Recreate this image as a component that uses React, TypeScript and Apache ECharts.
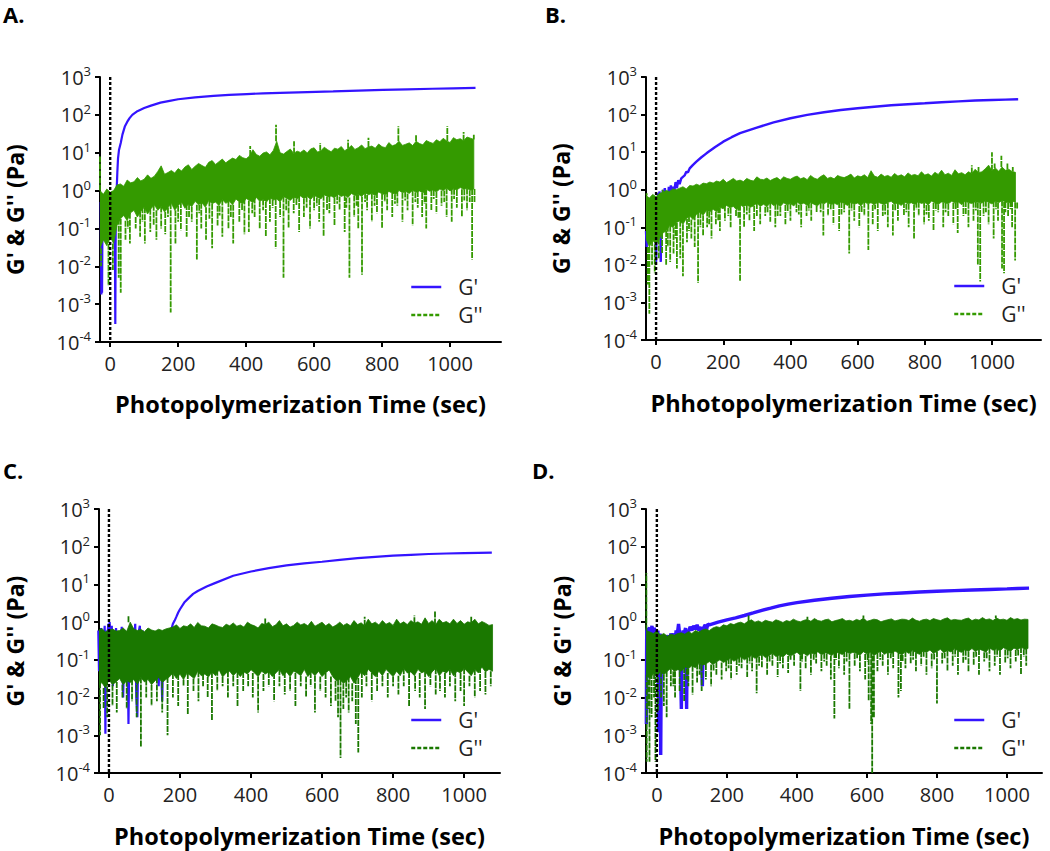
import React, { useEffect, useRef } from "react";
import * as echarts from "echarts";

// ---------------- data ----------------
const TIME_TICKS = [0, 200, 400, 600, 800, 1000];
const Y_TICK_EXP = [-4, -3, -2, -1, 0, 1, 2, 3];
// G'' is a dense noisy trace: it is read as the upper / lower edge of its dense band
// in 10 s bins (starting at -30 s), plus the isolated spikes that leave the band.
const BAND_START = -30; // s
const BAND_STEP = 10; // s

// ---- Panel A ----
const A_G1: [number, number][] = [
  [-28, 0.5], [-27, 0.03], [-26, 0.0018], [-25, 0.4], [-24, 0.002], [-23, 0.06], [-22, 0.5], [-20, 0.25],
  [-18, 0.6], [-15, 0.35], [-12, 0.7], [-9, 0.45], [-6, 0.75], [-3, 0.5], [0, 0.7], [3, 0.55], [6, 0.8],
  [9, 0.6], [12, 0.85], [14, 0.03], [15, 0.0003], [16, 0.04], [17, 0.9], [19, 1.0], [21, 3], [23, 7],
  [26, 12], [31, 18], [36, 30], [43, 49], [50, 65], [57, 82], [65, 100], [80, 125], [100, 151], [120, 175],
  [148, 210], [175, 235], [200, 258], [250, 290], [304, 316], [350, 338], [402, 355], [450, 368], [500, 380],
  [580, 400], [656, 417], [730, 437], [802, 457], [875, 473], [948, 490], [1010, 502], [1075, 513],
];
const A_G2_HI = [
  1.0, 0.8, 1.1, 0.9, 1.0, 1.4, 1.5, 1.3, 1.9, 1.6,
  1.7, 2.2, 1.8, 2.0, 2.6, 2.1, 2.4, 3.2, 4.5, 2.7,
  3.0, 3.4, 2.9, 3.8, 3.3, 4.2, 4.8, 3.6, 4.4, 5.2,
  4.6, 4.1, 5.6, 6.2, 4.9, 5.8, 6.8, 5.4, 6.3, 7.2,
  6.6, 8.5, 7.4, 6.9, 8.2, 12, 9.0, 8.1, 9.8, 10.5,
  8.8, 11.5, 20, 10, 9.2, 10.8, 12.5, 9.6, 11, 10.2,
  11.8, 9.9, 12.6, 13.5, 10.4, 11.2, 14, 12, 10.6, 13.2,
  12.4, 14.6, 11.3, 13, 15.5, 12.2, 13.6, 16, 12.8, 14.2,
  15, 13.1, 17, 14.4, 13.6, 18.5, 15.2, 16.4, 20, 15.6,
  16.8, 18.2, 15.4, 20, 17.5, 16.2, 21, 19, 17.6, 22,
  19.5, 24, 20.5, 18.6, 25, 22, 23.5, 20.8, 26, 24.2, 22.5,
];
const A_G2_LO = [
  0.03, 0.05, 0.035, 0.06, 0.04, 0.12, 0.18, 0.22, 0.16, 0.26,
  0.3, 0.2, 0.28, 0.36, 0.24, 0.33, 0.42, 0.3, 0.38, 0.27,
  0.35, 0.46, 0.3, 0.4, 0.5, 0.34, 0.44, 0.38, 0.52, 0.42,
  0.48, 0.36, 0.55, 0.45, 0.5, 0.4, 0.58, 0.46, 0.52, 0.42,
  0.6, 0.5, 0.44, 0.62, 0.55, 0.48, 0.66, 0.52, 0.58, 0.5,
  0.64, 0.56, 0.6, 0.5, 0.7, 0.62, 0.55, 0.68, 0.6, 0.72,
  0.62, 0.7, 0.58, 0.75, 0.66, 0.6, 0.78, 0.68, 0.72, 0.64,
  0.8, 0.7, 0.76, 0.66, 0.84, 0.74, 0.8, 0.7, 0.88, 0.78,
  0.84, 0.74, 0.92, 0.82, 0.78, 0.95, 0.86, 0.8, 1.0, 0.88,
  0.94, 0.84, 1.02, 0.9, 0.98, 0.86, 1.08, 0.96, 1.04, 0.92,
  1.1, 1.0, 1.16, 0.98, 1.12, 1.04, 1.2, 1.08, 1.14, 1.02, 1.1,
];
const A_G2_SPIKES: [number, number][] = [
  [-30, 8], [-27, 0.01], [-5, 0.003], [8, 0.008], [25, 0.005], [31, 0.002], [45, 0.05], [52, 0.1],
  [58, 0.04], [75, 0.1], [88, 0.06], [95, 0.15], [102, 0.04], [118, 0.08], [128, 0.12], [136, 0.05],
  [150, 0.1], [162, 0.07], [170, 0.2], [178, 0.0006], [192, 0.04], [200, 0.15], [208, 0.09], [225, 0.06],
  [232, 0.2], [240, 0.15], [255, 0.015], [262, 0.25], [268, 0.1], [282, 0.05], [292, 0.18], [300, 0.03],
  [316, 0.12], [322, 0.22], [330, 0.06], [348, 0.1], [355, 0.2], [362, 0.04], [380, 0.15], [388, 0.3],
  [395, 0.07], [408, 0.08], [412, 15], [418, 0.25], [425, 0.2], [440, 0.1], [450, 0.3], [458, 0.06],
  [470, 0.15], [478, 0.35], [487, 0.03], [488, 55], [500, 0.2], [510, 0.005], [518, 0.3], [525, 0.1],
  [540, 0.25], [541, 20], [548, 0.4], [556, 0.08], [570, 0.2], [578, 0.35], [588, 0.1], [600, 0.3],
  [608, 0.4], [615, 0.15], [618, 18], [628, 0.06], [638, 0.3], [645, 0.25], [660, 0.12], [668, 0.45],
  [675, 0.3], [690, 0.08], [695, 0.35], [700, 22], [704, 0.005], [718, 0.2], [725, 0.4], [730, 0.1],
  [741, 0.006], [750, 0.5], [756, 0.3], [760, 25], [770, 0.15], [778, 0.4], [785, 0.25], [800, 0.1],
  [808, 0.5], [815, 0.3], [830, 0.2], [838, 0.45], [845, 0.4], [848, 50], [860, 0.15], [868, 0.55],
  [875, 0.3], [890, 0.12], [898, 0.5], [900, 30], [905, 0.35], [918, 0.2], [925, 0.45], [930, 0.1],
  [945, 0.3], [952, 0.6], [960, 0.25], [975, 0.4], [983, 0.5], [990, 0.2], [992, 50], [1005, 0.15],
  [1012, 0.6], [1020, 0.35], [1035, 0.2], [1040, 35], [1042, 0.55], [1050, 0.3], [1058, 0.5],
  [1065, 0.015], [1070, 30], [1072, 0.5],
];

// ---- Panel B ----
const B_G1: [number, number][] = [
  [-30, 0.08], [-28, 0.03], [-26, 0.09], [-24, 0.04], [-22, 0.12], [-20, 0.05], [-18, 0.2], [-15, 0.1],
  [-12, 0.3], [-9, 0.15], [-6, 0.5], [-3, 0.2], [0, 0.012], [2, 0.6], [4, 0.25], [6, 0.8], [8, 0.3],
  [10, 0.9], [12, 0.4], [14, 0.012], [16, 0.7], [18, 0.35], [20, 1.0], [23, 0.5], [26, 1.1], [29, 0.6],
  [32, 0.9], [35, 0.5], [38, 1.2], [41, 0.7], [44, 1.3], [47, 0.8], [50, 1.2], [54, 0.9], [58, 1.6],
  [62, 1.1], [66, 1.8], [70, 1.4], [75, 2.0], [80, 2.2], [85, 2.4], [90, 3.0], [95, 2.9], [100, 3.7],
  [110, 4.6], [120, 5.6], [135, 7.3], [150, 9.3], [175, 13.5], [200, 19], [225, 25], [250, 32], [275, 38],
  [300, 45], [350, 62], [400, 80], [450, 98], [500, 115], [550, 132], [600, 147], [650, 162], [700, 177],
  [750, 189], [800, 200], [850, 213], [900, 225], [950, 236], [1000, 245], [1040, 250], [1078, 255],
];
const B_G2_HI = [
  0.7, 0.6, 0.75, 0.65, 0.8, 0.85, 0.95, 0.9, 1.05, 1.0,
  1.1, 1.2, 1.05, 1.3, 1.25, 1.4, 1.3, 1.5, 1.45, 1.6,
  1.5, 1.7, 1.6, 1.9, 1.55, 1.75, 2.0, 1.7, 1.8, 1.65,
  2.0, 1.8, 1.7, 2.2, 1.9, 1.85, 2.05, 1.75, 1.95, 2.1,
  1.8, 2.2, 2.0, 1.9, 2.15, 2.3, 1.95, 2.1, 1.85, 2.4,
  2.05, 1.9, 2.25, 2.5, 2.0, 2.15, 1.95, 2.4, 2.2, 2.1,
  2.3, 2.6, 2.05, 2.35, 2.2, 2.5, 2.1, 3.2, 2.3, 2.15,
  2.6, 2.25, 2.4, 2.15, 2.7, 2.3, 2.5, 2.2, 2.8, 2.4,
  2.55, 2.35, 3.0, 2.45, 2.65, 2.3, 2.9, 2.55, 3.3, 2.5,
  2.75, 2.4, 3.4, 2.65, 2.85, 2.5, 3.0, 2.7, 3.5, 2.85,
  3.0, 3.6, 4.5, 3.2, 3.8, 3.1, 4.0, 3.3, 3.5, 3.05, 2.9,
];
const B_G2_LO = [
  0.05, 0.03, 0.045, 0.035, 0.05, 0.07, 0.08, 0.11, 0.1, 0.13,
  0.15, 0.12, 0.17, 0.2, 0.16, 0.22, 0.25, 0.21, 0.28, 0.26,
  0.3, 0.26, 0.34, 0.31, 0.38, 0.33, 0.36, 0.29, 0.4, 0.35,
  0.4, 0.34, 0.37, 0.44, 0.36, 0.41, 0.35, 0.45, 0.38, 0.42,
  0.36, 0.45, 0.39, 0.43, 0.37, 0.47, 0.4, 0.44, 0.38, 0.46,
  0.41, 0.37, 0.45, 0.42, 0.48, 0.39, 0.44, 0.4, 0.47, 0.43,
  0.38, 0.46, 0.41, 0.44, 0.37, 0.48, 0.42, 0.45, 0.39, 0.47,
  0.43, 0.4, 0.46, 0.49, 0.41, 0.44, 0.38, 0.47, 0.42, 0.45,
  0.4, 0.48, 0.43, 0.46, 0.39, 0.5, 0.44, 0.41, 0.47, 0.45,
  0.42, 0.49, 0.44, 0.47, 0.4, 0.5, 0.45, 0.43, 0.48, 0.46,
  0.44, 0.51, 0.46, 0.42, 0.49, 0.45, 0.52, 0.47, 0.44, 0.5, 0.46,
];
const B_G2_SPIKES: [number, number][] = [
  [-28, 0.8], [-25, 0.003], [-20, 0.0005], [-12, 0.01], [-4, 0.006], [8, 0.015], [18, 0.02], [20, 1.0],
  [30, 0.01], [35, 0.03], [42, 0.012], [52, 0.02], [58, 0.05], [62, 0.008], [72, 0.015], [80, 0.005],
  [92, 0.04], [98, 0.08], [105, 0.05], [115, 0.03], [125, 0.0033], [132, 0.1], [140, 0.06], [152, 0.1],
  [158, 0.12], [165, 0.05], [178, 0.12], [185, 0.15], [190, 0.08], [205, 0.15], [215, 0.2], [222, 0.1],
  [238, 0.2], [245, 0.18], [250, 0.0036], [262, 0.1], [270, 0.22], [278, 0.15], [292, 0.08], [300, 0.2],
  [310, 0.12], [325, 0.2], [332, 0.25], [340, 0.14], [355, 0.1], [362, 0.2], [370, 0.2], [385, 0.12],
  [392, 0.25], [400, 0.15], [418, 0.25], [425, 0.22], [432, 0.1], [448, 0.2], [455, 0.28], [462, 0.15],
  [478, 0.25], [490, 0.25], [498, 0.06], [512, 0.2], [520, 0.3], [528, 0.12], [545, 0.08], [552, 0.22],
  [560, 0.25], [575, 0.02], [582, 0.28], [590, 0.15], [605, 0.1], [612, 0.25], [620, 0.2], [632, 0.025],
  [645, 0.12], [652, 0.3], [660, 0.08], [675, 0.2], [682, 0.22], [690, 0.1], [705, 0.06], [712, 0.28],
  [720, 0.15], [738, 0.2], [745, 0.25], [752, 0.1], [768, 0.05], [775, 0.3], [782, 0.2], [798, 0.12],
  [805, 0.22], [812, 0.15], [826, 0.08], [833, 0.28], [840, 0.25], [855, 0.1], [862, 0.25], [870, 0.2],
  [885, 0.12], [892, 0.3], [898, 0.07], [915, 0.2], [922, 0.22], [930, 0.1], [940, 4.5], [945, 0.15],
  [952, 0.28], [958, 0.01], [960, 4], [965, 0.0036], [975, 0.2], [982, 0.25], [990, 0.12], [1000, 10],
  [1005, 0.05], [1008, 5], [1012, 0.3], [1018, 0.15], [1028, 8], [1030, 0.008], [1036, 0.006],
  [1040, 0.25], [1046, 5], [1048, 0.2], [1055, 0.3], [1060, 0.1], [1062, 4], [1069, 0.013], [1075, 0.3],
];

// ---- Panel C ----
const C_G1: [number, number][] = [
  [-30, 0.6], [-28, 0.05], [-26, 0.5], [-24, 0.3], [-22, 0.7], [-20, 0.04], [-18, 0.5], [-15, 0.2],
  [-12, 0.8], [-10, 0.0011], [-8, 0.6], [-5, 0.3], [-2, 0.9], [0, 0.5], [2, 1.0], [5, 0.2], [8, 0.8],
  [11, 0.02], [14, 0.6], [17, 0.1], [20, 0.7], [24, 0.04], [28, 0.5], [32, 0.15], [36, 0.75], [40, 0.01],
  [44, 0.6], [48, 0.08], [52, 0.4], [55, 0.002], [58, 0.5], [62, 0.03], [66, 0.7], [70, 0.2], [74, 0.9],
  [77, 0.01], [80, 0.003], [83, 0.5], [87, 0.8], [91, 0.1], [95, 0.6], [100, 0.05], [105, 0.5], [110, 0.2],
  [115, 0.6], [120, 0.03], [125, 0.5], [130, 0.1], [135, 0.45], [140, 0.02], [145, 0.4], [150, 0.008],
  [153, 0.3], [157, 0.5], [161, 0.1], [165, 0.6], [170, 0.4], [175, 0.6], [180, 0.9], [185, 1.1],
  [190, 1.4], [195, 1.8], [200, 2.2], [212, 3.3], [225, 4.4], [237, 5.6], [250, 6.7], [275, 8.8],
  [300, 11], [350, 17], [400, 22], [450, 27], [500, 32], [550, 36], [600, 40], [650, 45], [700, 50],
  [750, 54], [800, 58], [850, 61], [900, 64], [950, 66], [1000, 68], [1040, 69], [1078, 70],
];
const C_G2_HI = [
  0.6, 0.68, 0.55, 0.62, 0.66, 0.58, 0.6, 0.7, 0.57, 1.0,
  0.66, 0.6, 0.64, 0.56, 0.7, 0.62, 0.58, 0.65, 0.6, 0.66,
  0.7, 0.74, 0.85, 0.68, 0.8, 0.76, 0.9, 0.72, 0.98, 0.8,
  0.78, 0.7, 0.9, 0.84, 0.76, 0.72, 0.88, 0.8, 0.95, 0.78,
  0.84, 0.74, 1.0, 0.86, 0.8, 0.7, 0.92, 0.86, 1.0, 0.76,
  0.85, 1.1, 0.8, 0.9, 0.74, 0.82, 1.0, 0.84, 0.92, 0.8,
  1.05, 0.78, 0.88, 1.0, 0.8, 0.92, 0.74, 0.84, 1.0, 0.82,
  0.92, 0.8, 1.1, 0.86, 0.96, 0.8, 1.2, 0.9, 1.0, 0.84,
  1.1, 0.88, 0.98, 0.82, 1.2, 0.9, 1.02, 0.86, 1.1, 0.94,
  1.02, 0.88, 1.3, 0.92, 1.1, 0.86, 1.2, 0.96, 1.04, 0.9,
  1.2, 0.92, 1.1, 0.88, 1.02, 0.96, 1.2, 0.9, 1.04, 0.94, 0.82, 0.86,
];
const C_G2_LO = [
  0.02, 0.025, 0.018, 0.03, 0.022, 0.026, 0.032, 0.022, 0.028, 0.025,
  0.03, 0.022, 0.034, 0.026, 0.03, 0.022, 0.028, 0.034, 0.025, 0.03,
  0.035, 0.045, 0.032, 0.042, 0.03, 0.045, 0.038, 0.032, 0.05, 0.038,
  0.042, 0.035, 0.048, 0.038, 0.055, 0.035, 0.045, 0.05, 0.038, 0.048,
  0.036, 0.048, 0.042, 0.055, 0.045, 0.036, 0.05, 0.042, 0.048, 0.036,
  0.045, 0.056, 0.038, 0.048, 0.036, 0.05, 0.045, 0.038, 0.056, 0.036,
  0.048, 0.038, 0.05, 0.036, 0.045, 0.054, 0.036, 0.028, 0.03, 0.024,
  0.028, 0.036, 0.024, 0.033, 0.048, 0.038, 0.056, 0.045, 0.036, 0.05,
  0.038, 0.056, 0.045, 0.036, 0.05, 0.038, 0.06, 0.045, 0.048, 0.038,
  0.056, 0.045, 0.05, 0.036, 0.048, 0.06, 0.038, 0.05, 0.045, 0.056,
  0.038, 0.05, 0.045, 0.06, 0.048, 0.038, 0.056, 0.045, 0.065, 0.048, 0.056, 0.05,
];
const C_G2_SPIKES: [number, number][] = [
  [-25, 0.001], [-15, 0.005], [-5, 0.003], [10, 0.006], [22, 0.004], [38, 0.01], [50, 0.005], [55, 1.5],
  [65, 0.008], [78, 0.003], [90, 0.0005], [105, 0.01], [120, 0.006], [135, 0.008], [150, 0.004],
  [165, 0.001], [180, 0.01], [195, 0.006], [210, 0.02], [222, 0.0035], [238, 0.015], [252, 0.008],
  [265, 0.02], [278, 0.01], [290, 0.0025], [305, 0.015], [320, 0.02], [335, 0.01], [350, 0.02],
  [362, 0.006], [378, 0.015], [392, 0.02], [405, 0.01], [420, 0.004], [435, 0.015], [440, 1.3],
  [450, 0.02], [465, 0.008], [480, 0.02], [495, 0.012], [510, 0.015], [525, 0.006], [540, 0.02],
  [555, 0.01], [568, 0.02], [580, 0.004], [595, 0.015], [610, 0.01], [625, 0.006], [638, 0.008],
  [645, 0.003], [652, 0.00025], [660, 0.005], [668, 0.01], [675, 0.004], [685, 0.008], [695, 0.002],
  [702, 0.00035], [712, 0.01], [720, 1.4], [725, 0.02], [740, 0.008], [755, 0.015], [770, 0.02],
  [785, 0.01], [800, 0.02], [815, 0.012], [830, 0.02], [845, 0.006], [860, 1.5], [862, 0.015],
  [875, 0.01], [890, 0.005], [905, 0.02], [918, 2.0], [920, 0.012], [932, 0.015], [946, 0.01],
  [960, 0.02], [975, 0.008], [990, 0.015], [1000, 0.006], [1015, 0.02], [1020, 1.4], [1030, 0.01],
  [1045, 0.015], [1060, 0.012], [1075, 0.02],
];

// ---- Panel D ----
const D_G1: [number, number][] = [
  [-30, 0.002], [-29, 0.6], [-27, 0.7], [-25, 0.05], [-23, 0.65], [-20, 0.7], [-17, 0.5], [-14, 0.8],
  [-11, 0.4], [-8, 0.7], [-5, 0.6], [-2, 0.5], [0, 0.4], [3, 0.6], [5, 0.0012], [7, 0.3], [9, 0.5],
  [11, 0.0003], [13, 0.4], [16, 0.45], [20, 0.35], [24, 0.4], [28, 0.3], [32, 0.45], [36, 0.25], [40, 0.5],
  [44, 0.4], [48, 0.5], [52, 0.3], [55, 0.6], [58, 0.45], [62, 0.9], [65, 0.5], [68, 0.04], [70, 0.005],
  [72, 0.4], [75, 0.6], [78, 0.5], [82, 0.7], [85, 0.005], [87, 0.6], [90, 0.55], [95, 0.75], [100, 0.6],
  [105, 0.8], [110, 0.65], [115, 0.85], [120, 0.6], [125, 0.75], [130, 0.02], [133, 0.7], [138, 0.85],
  [142, 0.65], [146, 0.9], [150, 0.85], [175, 1.0], [200, 1.15], [225, 1.3], [250, 1.5], [275, 1.75],
  [300, 2.05], [325, 2.35], [350, 2.7], [375, 3.0], [400, 3.3], [450, 3.8], [500, 4.3], [550, 4.8],
  [600, 5.2], [650, 5.6], [700, 5.95], [750, 6.3], [800, 6.6], [850, 6.85], [900, 7.1], [950, 7.35],
  [1000, 7.6], [1030, 7.8], [1063, 8.0],
];
const D_G2_HI = [
  0.6, 0.55, 0.5, 0.58, 0.45, 0.5, 0.42, 0.48, 0.45, 0.5,
  0.52, 0.48, 0.56, 0.5, 0.6, 0.55, 0.62, 0.66, 0.6, 0.7,
  0.76, 0.72, 0.85, 0.8, 0.92, 0.86, 0.95, 1.0, 0.9, 1.05,
  1.15, 1.0, 1.08, 0.98, 1.12, 1.05, 1.0, 1.15, 1.08, 0.98,
  1.1, 1.04, 1.2, 1.08, 1.02, 1.12, 1.18, 1.05, 1.25, 1.1,
  1.06, 1.15, 1.2, 1.02, 1.1, 1.16, 1.24, 1.08, 1.12, 1.05,
  1.18, 1.1, 1.28, 1.05, 1.12, 1.2, 1.15, 1.02, 1.1, 1.16,
  1.22, 1.08, 1.14, 1.2, 1.18, 1.1, 1.28, 1.12, 1.06, 1.16,
  1.2, 1.1, 1.24, 1.16, 1.1, 1.22, 1.3, 1.12, 1.18, 1.14,
  1.12, 1.22, 1.28, 1.1, 1.2, 1.14, 1.32, 1.16, 1.22, 1.1,
  1.28, 1.16, 1.2, 1.12, 1.32, 1.18, 1.24, 1.14, 1.2, 1.18,
];
const D_G2_LO = [
  0.04, 0.03, 0.045, 0.035, 0.05, 0.04, 0.05, 0.06, 0.05, 0.055,
  0.05, 0.065, 0.058, 0.07, 0.062, 0.08, 0.072, 0.078, 0.09, 0.075,
  0.088, 0.1, 0.085, 0.096, 0.11, 0.092, 0.105, 0.12, 0.1, 0.115,
  0.13, 0.11, 0.12, 0.14, 0.115, 0.128, 0.15, 0.122, 0.135, 0.118,
  0.145, 0.126, 0.138, 0.16, 0.132, 0.148, 0.128, 0.155, 0.14, 0.165,
  0.135, 0.155, 0.145, 0.13, 0.162, 0.15, 0.138, 0.17, 0.145, 0.158,
  0.15, 0.132, 0.165, 0.142, 0.158, 0.13, 0.152, 0.172, 0.14, 0.16,
  0.145, 0.172, 0.152, 0.135, 0.168, 0.148, 0.18, 0.155, 0.14, 0.17,
  0.16, 0.182, 0.148, 0.17, 0.19, 0.155, 0.178, 0.162, 0.2, 0.172,
  0.158, 0.186, 0.17, 0.2, 0.165, 0.195, 0.178, 0.16, 0.21, 0.18,
  0.196, 0.172, 0.21, 0.188, 0.168, 0.205, 0.182, 0.22, 0.19, 0.2,
];
const D_G2_SPIKES: [number, number][] = [
  [-30, 20], [-29, 0.0002], [-25, 0.005], [-21, 0.0002], [-15, 0.003], [-8, 0.01], [-4, 0.0002],
  [3, 0.004], [12, 0.01], [20, 0.006], [28, 0.003], [40, 0.02], [47, 0.02], [52, 0.01], [65, 0.015],
  [78, 0.008], [85, 0.03], [90, 0.02], [102, 0.012], [115, 0.025], [122, 0.04], [128, 0.015], [140, 0.03],
  [155, 0.02], [162, 0.05], [170, 0.04], [185, 0.03], [198, 0.05], [205, 0.06], [212, 0.03], [228, 0.04],
  [235, 0.07], [242, 0.06], [258, 0.035], [262, 1.5], [265, 0.08], [272, 0.05], [285, 0.013],
  [292, 0.07], [300, 0.06], [315, 0.04], [322, 0.09], [330, 0.07], [345, 0.035], [352, 0.08],
  [360, 0.06], [375, 0.045], [382, 0.1], [392, 0.07], [410, 0.015], [415, 0.09], [425, 0.06],
  [430, 1.4], [440, 0.04], [448, 0.1], [455, 0.08], [470, 0.05], [478, 0.09], [485, 0.07], [497, 0.03],
  [507, 0.0028], [512, 0.1], [520, 0.06], [535, 0.04], [542, 0.09], [550, 0.005], [565, 0.07],
  [572, 0.11], [580, 0.05], [590, 1.5], [595, 0.03], [602, 0.09], [605, 0.008], [612, 0.002],
  [615, 0.0001], [620, 0.003], [630, 0.05], [638, 0.1], [645, 0.07], [660, 0.04], [668, 0.11],
  [675, 0.06], [690, 0.01], [697, 0.015], [702, 0.09], [710, 0.06], [725, 0.08], [732, 0.1],
  [740, 0.05], [755, 0.07], [762, 0.12], [770, 0.04], [785, 0.06], [792, 0.1], [800, 0.007],
  [815, 0.08], [822, 0.11], [830, 0.05], [845, 0.07], [852, 0.12], [860, 0.04], [875, 0.08],
  [882, 0.1], [890, 0.05], [905, 0.07], [912, 0.12], [920, 0.04], [935, 0.09], [942, 0.11],
  [950, 0.05], [965, 0.07], [968, 1.5], [972, 0.12], [980, 0.04], [995, 0.08], [1002, 0.11],
  [1010, 0.06], [1025, 0.09], [1032, 0.13], [1040, 0.04], [1048, 0.12], [1055, 0.07],
];

// ---------------- styling / layout ----------------
const FONT = "'Open Sans', 'DejaVu Sans', sans-serif";
const BLUE = "#3414ff";
const GREEN_LIGHT = "#349a00";
const GREEN_DARK = "#1a7800";

type Panel = {
  title: string;
  titlePos: { left: number; top: number };
  xName: string;
  grid: { left: number; top: number; width: number; height: number };
  xMin: number;
  xMax: number;
  g1: [number, number][];
  hi: number[];
  lo: number[];
  spikes: [number, number][];
  green: string;
  blueWidth: number;
  legendPos: { left: number; top: number };
  yNameGap: number;
  xNameGap: number;
};

const PANELS: Panel[] = [
  {
    title: "A.", titlePos: { left: 3, top: 2 },
    xName: "Photopolymerization Time (sec)",
    grid: { left: 100, top: 77, width: 401, height: 265 },
    xMin: -30, xMax: 1150, g1: A_G1, hi: A_G2_HI, lo: A_G2_LO, spikes: A_G2_SPIKES,
    green: GREEN_LIGHT, blueWidth: 2.2,
    legendPos: { left: 410, top: 276 }, yNameGap: 74, xNameGap: 50,
  },
  {
    title: "B.", titlePos: { left: 545, top: 2 },
    xName: "Phhotopolymerization Time (sec)",
    grid: { left: 646, top: 77, width: 395, height: 263 },
    xMin: -30, xMax: 1146, g1: B_G1, hi: B_G2_HI, lo: B_G2_LO, spikes: B_G2_SPIKES,
    green: GREEN_LIGHT, blueWidth: 2.4,
    legendPos: { left: 953, top: 275 }, yNameGap: 74, xNameGap: 51,
  },
  {
    title: "C.", titlePos: { left: 3, top: 458 },
    xName: "Photopolymerization Time (sec)",
    grid: { left: 99, top: 509, width: 401, height: 264 },
    xMin: -28, xMax: 1101, g1: C_G1, hi: C_G2_HI, lo: C_G2_LO, spikes: C_G2_SPIKES,
    green: GREEN_DARK, blueWidth: 2.2,
    legendPos: { left: 410, top: 709 }, yNameGap: 73, xNameGap: 51,
  },
  {
    title: "D.", titlePos: { left: 532, top: 458 },
    xName: "Photopolymerization Time (sec)",
    grid: { left: 646, top: 509, width: 396, height: 264 },
    xMin: -31, xMax: 1100, g1: D_G1, hi: D_G2_HI, lo: D_G2_LO, spikes: D_G2_SPIKES,
    green: GREEN_DARK, blueWidth: 3.4,
    legendPos: { left: 953, top: 709 }, yNameGap: 73, xNameGap: 51,
  },
];

function buildOption() {
  const grids: any[] = [];
  const xAxes: any[] = [];
  const yAxes: any[] = [];
  const series: any[] = [];
  const legends: any[] = [];
  const titles: any[] = [];
  const yMin = Math.pow(10, Y_TICK_EXP[0]);
  const yMax = Math.pow(10, Y_TICK_EXP[Y_TICK_EXP.length - 1]);

  PANELS.forEach((p, i) => {
    grids.push({ ...p.grid, containLabel: false });
    titles.push({
      text: p.title,
      left: p.titlePos.left,
      top: p.titlePos.top,
      padding: 0,
      textStyle: { fontFamily: FONT, fontSize: 22, fontWeight: "bold", color: "#000", lineHeight: 24 },
    });
    xAxes.push({
      type: "value",
      gridIndex: i,
      min: p.xMin,
      max: p.xMax,
      splitLine: { show: false },
      axisLine: { onZero: false, lineStyle: { color: "#000", width: 2 } },
      axisTick: { customValues: TIME_TICKS, length: 5, lineStyle: { color: "#000", width: 2 } },
      axisLabel: {
        customValues: TIME_TICKS,
        formatter: (v: number) => String(v),
        fontFamily: FONT,
        fontSize: 20,
        color: "#222",
        margin: 11,
      },
      name: p.xName,
      nameLocation: "middle",
      nameGap: p.xNameGap,
      nameTextStyle: { fontFamily: FONT, fontSize: 23.5, fontWeight: "bold", color: "#000", lineHeight: 24 },
    });
    yAxes.push({
      type: "log",
      logBase: 10,
      gridIndex: i,
      min: yMin,
      max: yMax,
      splitNumber: Y_TICK_EXP.length - 1,
      splitLine: { show: false },
      minorTick: { show: false },
      axisLine: { show: true, onZero: false, lineStyle: { color: "#000", width: 2 } },
      axisTick: { show: true, length: 5, lineStyle: { color: "#000", width: 2 } },
      axisLabel: {
        margin: 9,
        formatter: (v: number) => `{b|10}{s|${Math.round(Math.log10(v))}}`,
        rich: {
          b: { fontFamily: FONT, fontSize: 20, color: "#222", lineHeight: 25 },
          s: { fontFamily: FONT, fontSize: 13, color: "#222", lineHeight: 15, verticalAlign: "top" },
        },
      },
      name: "G' & G'' (Pa)",
      nameLocation: "middle",
      nameGap: p.yNameGap,
      nameTextStyle: { fontFamily: FONT, fontSize: 23, fontWeight: "bold", color: "#000", lineHeight: 23 },
    });

    // G' (storage modulus)
    series.push({
      name: "G'",
      type: "line",
      xAxisIndex: i,
      yAxisIndex: i,
      data: p.g1,
      symbol: "none",
      showSymbol: false,
      lineStyle: { color: BLUE, width: p.blueWidth, join: "bevel" },
      itemStyle: { color: BLUE },
      z: 2,
    });

    // G'' (loss modulus): isolated spikes leaving the dense band
    const bandTimes = p.hi.map((_, k) => BAND_START + k * BAND_STEP);
    const nearest = (t: number) =>
      Math.max(0, Math.min(p.hi.length - 1, Math.round((t - BAND_START) / BAND_STEP)));
    const spikeData: any[] = [];
    p.spikes.forEach(([t, v]) => {
      const k = nearest(t);
      const edge = v > p.hi[k] ? p.hi[k] : p.lo[k];
      spikeData.push([t, edge], [t, v], [t, "-"]);
    });
    series.push({
      name: "G''",
      type: "line",
      xAxisIndex: i,
      yAxisIndex: i,
      data: spikeData,
      connectNulls: false,
      symbol: "none",
      showSymbol: false,
      lineStyle: { color: p.green, width: 1.8, type: [6, 1] },
      itemStyle: { color: p.green },
      z: 3,
    });

    // G'' dense band, drawn as one polygon (upper edge forward, lower edge back)
    const hi = p.hi;
    const lo = p.lo;
    series.push({
      name: "G''",
      type: "custom",
      xAxisIndex: i,
      yAxisIndex: i,
      clip: true,
      silent: true,
      data: bandTimes.map((t, k) => [t, lo[k], hi[k]]),
      encode: { x: 0, y: [1, 2] },
      itemStyle: { color: p.green },
      renderItem: (params: any, api: any) => {
        if (params.dataIndex !== 0) return null;
        const pts: number[][] = [];
        for (let k = 0; k < bandTimes.length; k++) pts.push(api.coord([bandTimes[k], hi[k]]));
        for (let k = bandTimes.length - 1; k >= 0; k--) pts.push(api.coord([bandTimes[k], lo[k]]));
        return {
          type: "polygon",
          shape: { points: pts },
          style: { fill: p.green, stroke: p.green, lineWidth: 0.8 },
        };
      },
      z: 3,
    });

    // t = 0 marker (start of irradiation)
    series.push({
      name: "t0",
      type: "line",
      xAxisIndex: i,
      yAxisIndex: i,
      data: [[0, yMax], [0, yMin]],
      symbol: "none",
      silent: true,
      lineStyle: { color: "#000", width: 2.4, type: [3, 2] },
      z: 6,
    });

    legends.push({
      orient: "vertical",
      left: p.legendPos.left,
      top: p.legendPos.top,
      padding: 0,
      itemWidth: 30,
      itemHeight: 14,
      itemGap: 6,
      selectedMode: false,
      data: [
        {
          name: "G'",
          itemStyle: { opacity: 0 },
          lineStyle: { color: BLUE, width: 2.5, type: "solid", opacity: 1 },
        },
        {
          name: "G''",
          itemStyle: { opacity: 0 },
          lineStyle: { color: p.green, width: 2.5, type: [4, 2], opacity: 1 },
        },
      ],
      textStyle: {
        fontFamily: FONT,
        fontSize: 21,
        color: "#222",
        lineHeight: 22,
        padding: [0, 0, 0, 12],
      },
    });
  });

  return {
    animation: false,
    backgroundColor: "#ffffff",
    title: titles,
    grid: grids,
    xAxis: xAxes,
    yAxis: yAxes,
    legend: legends,
    series,
  };
}

export default function App() {
  const ref = useRef<HTMLDivElement | null>(null);
  useEffect(() => {
    if (!ref.current) return;
    const chart = echarts.init(ref.current, null, { renderer: "svg" });
    chart.setOption(buildOption() as any);
    return () => chart.dispose();
  }, []);
  return (
    <div
      ref={ref}
      style={{ position: "absolute", left: 0, top: 0, width: 1050, height: 851, background: "#fff" }}
    />
  );
}
